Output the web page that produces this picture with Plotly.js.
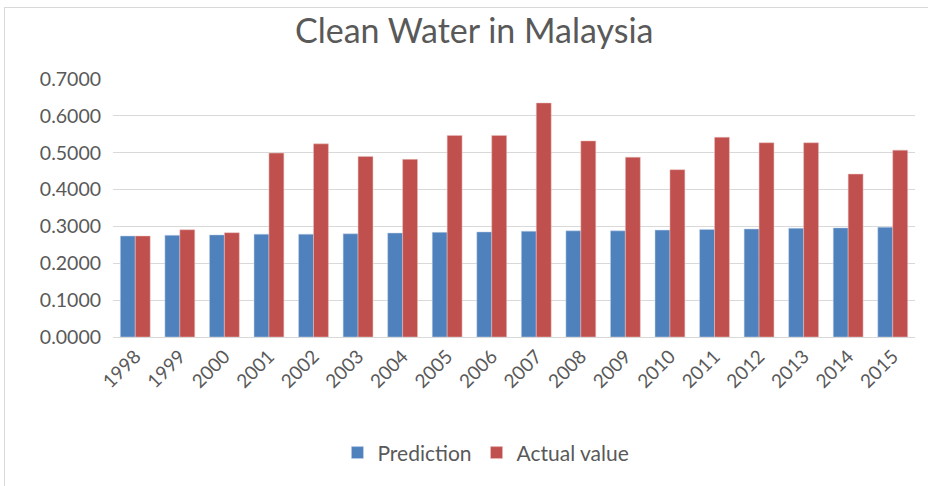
<!DOCTYPE html>
<html>
<head>
<meta charset="utf-8">
<script src="https://cdn.plot.ly/plotly-3.0.1.min.js"></script>
<style>
  html, body { margin: 0; padding: 0; background: #fff; }
  #chart { width: 928px; height: 486px; position: relative; }
  #frame { position: absolute; left: 4px; top: 7px; width: 940px; height: 500px;
           border: 1px solid #d9d9d9; pointer-events: none; }
</style>
</head>
<body>
<div id="chart"></div>
<div id="frame"></div>
<script>
const years = ['1998', '1999', '2000', '2001', '2002', '2003', '2004', '2005', '2006',
               '2007', '2008', '2009', '2010', '2011', '2012', '2013', '2014', '2015'];
const prediction = [0.274, 0.276, 0.277, 0.279, 0.279, 0.280, 0.282, 0.284, 0.285,
                    0.287, 0.288, 0.288, 0.290, 0.292, 0.293, 0.295, 0.296, 0.298];
const actual = [0.274, 0.291, 0.283, 0.499, 0.524, 0.490, 0.482, 0.547, 0.547,
                0.635, 0.532, 0.488, 0.454, 0.542, 0.527, 0.527, 0.442, 0.507];
const yTicks = [0, 0.1, 0.2, 0.3, 0.4, 0.5, 0.6, 0.7];

const FONT = 'Lato, "Open Sans", sans-serif';
const GREY = '#595959';

const traces = [
    { x: years, y: prediction, type: 'bar', name: 'Prediction',
      marker: { color: '#4f81bd', line: { color: '#c5d5ea', width: 0.5 } } },
    { x: years, y: actual, type: 'bar', name: 'Actual value',
      marker: { color: '#c0504d', line: { color: '#eac4c3', width: 0.5 } } }
];

const layout = {
    width: 928,
    height: 486,
    margin: { t: 79, r: 13, b: 147, l: 113 },
    paper_bgcolor: 'rgba(0,0,0,0)',
    plot_bgcolor: '#fff',
    font: { family: FONT, color: GREY },
    title: { text: 'Clean Water in Malaysia', x: 0.511, xanchor: 'center', y: 0.936, yanchor: 'middle',
             font: { family: FONT, size: 34, color: GREY } },
    barmode: 'group',
    bargap: 0.33,
    bargroupgap: 0,
    xaxis: {
        type: 'category',
        tickangle: -45,
        tickfont: { size: 19, color: GREY },
        showgrid: false,
        showline: true,
        linecolor: '#d9d9d9',
        ticks: '',
        automargin: false
    },
    yaxis: {
        range: [0, 0.7],
        tickvals: yTicks,
        tickformat: '.4f',
        tickfont: { size: 19.5, color: GREY },
        ticklabelstandoff: 11,
        gridcolor: '#d9d9d9',
        gridwidth: 1,
        zeroline: false,
        showline: false,
        ticks: '',
        ticklen: 0,
        automargin: false
    },
    legend: {
        orientation: 'h',
        x: 0.465, xanchor: 'center',
        y: -0.37, yanchor: 'top',
        font: { size: 21, color: GREY },
        itemwidth: 20,
        traceorder: 'normal'
    },
    showlegend: true
};

Plotly.newPlot('chart', traces, layout, { displayModeBar: false, staticPlot: true });
</script>
</body>
</html>
